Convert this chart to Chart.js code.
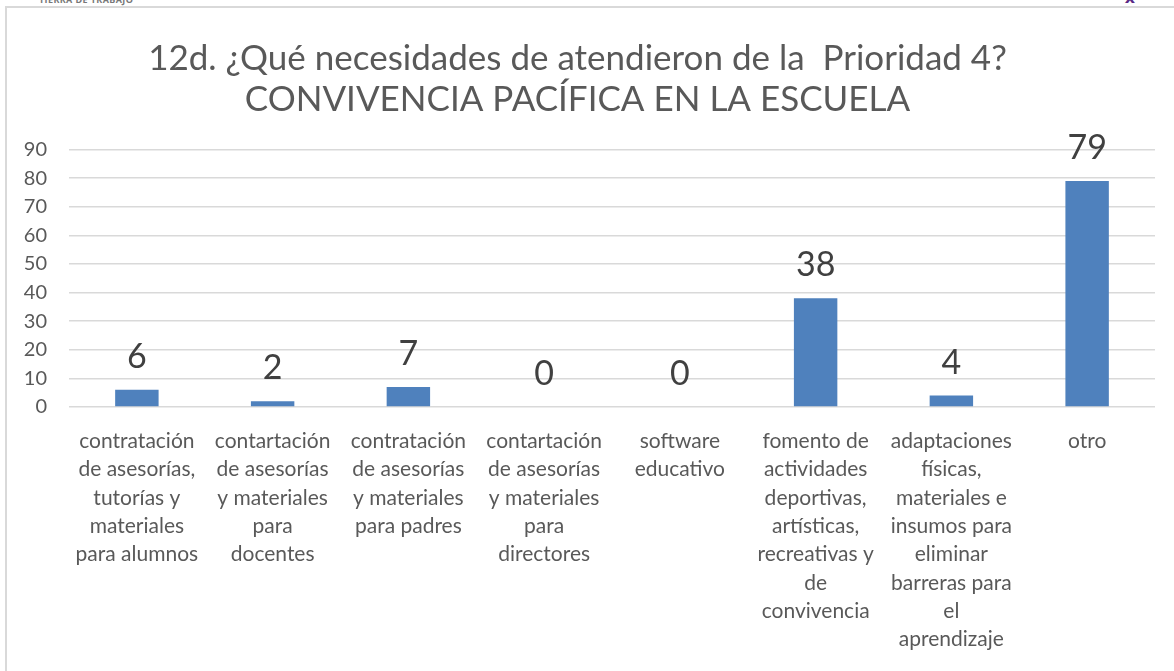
<!DOCTYPE html>
<html>
<head>
<meta charset="utf-8">
<script src="https://cdn.jsdelivr.net/npm/chart.js@4/dist/chart.umd.min.js"></script>
<style>
  body { margin: 0; background: #fff; }
  #wrap { position: relative; width: 1174px; height: 671px; overflow: hidden; }
  #frame { position: absolute; left: 5px; top: 6px; width: 1180px; height: 700px; border: 2px solid #d9d9d9; box-sizing: border-box; }
  #logo { position: absolute; left: 39px; top: -7px; font: bold 9px "Open Sans", sans-serif; color: #777; letter-spacing: 0.4px; }
  #mark { position: absolute; left: 1118px; top: -12px; font: bold 16px "DejaVu Sans", sans-serif; color: #5b2a86; }
  canvas { position: absolute; left: 0; top: 0; }
</style>
</head>
<body>
<div id="wrap">
  <div id="logo">TIERRA DE TRABAJO</div>
  <div id="mark">-x-</div>
  <div id="frame"></div>
  <canvas id="needsChart" width="1174" height="671"></canvas>
</div>
<script>
// categories (already broken into lines like in the original)
var categories = [
    ['contratación', 'de asesorías,', 'tutorías y', 'materiales', 'para alumnos'],
    ['contartación', 'de asesorías', 'y materiales', 'para', 'docentes'],
    ['contratación', 'de asesorías', 'y materiales', 'para padres'],
    ['contartación', 'de asesorías', 'y materiales', 'para', 'directores'],
    ['software', 'educativo'],
    ['fomento de', 'actividades', 'deportivas,', 'artísticas,', 'recreativas y', 'de', 'convivencia'],
    ['adaptaciones', 'físicas,', 'materiales e', 'insumos para', 'eliminar', 'barreras para', 'el', 'aprendizaje'],
    ['otro']
];
var values = [6, 2, 7, 0, 0, 38, 4, 79];
var titleLines = ['12d. ¿Qué necesidades de atendieron de la  Prioridad 4?', 'CONVIVENCIA PACÍFICA EN LA ESCUELA'];

var fontName = 'Lato, "Open Sans", sans-serif';

// draw the value above each bar
var valueLabels = {
    id: 'valueLabels',
    afterDatasetsDraw: function (chart) {
        var ctx = chart.ctx;
        var meta = chart.getDatasetMeta(0);
        ctx.save();
        ctx.font = '34px ' + fontName;
        ctx.fillStyle = '#404040';
        ctx.textAlign = 'center';
        ctx.textBaseline = 'middle';
        meta.data.forEach(function (bar, i) {
            ctx.fillText(String(values[i]), bar.x, bar.y - 33);
        });
        ctx.restore();
    }
};

var ctx = document.getElementById('needsChart').getContext('2d');
var needsChart = new Chart(ctx, {
    type: 'bar',
    data: {
        labels: categories,
        datasets: [{
            data: values,
            backgroundColor: '#4f81bd',
            borderWidth: 0,
            categoryPercentage: 1,
            barPercentage: 0.32
        }]
    },
    options: {
        responsive: false,
        animation: false,
        layout: { padding: { left: 0, right: 19, top: 0, bottom: 0 } },
        plugins: {
            legend: { display: false },
            tooltip: { enabled: false },
            title: {
                display: true,
                text: titleLines,
                color: '#595959',
                font: { family: fontName, size: 35, weight: 'normal', lineHeight: 1.15 },
                padding: { top: 39, bottom: 30 }
            }
        },
        scales: {
            x: {
                grid: { display: false },
                border: { display: false },
                ticks: {
                    color: '#595959',
                    font: { family: fontName, size: 21, lineHeight: 1.35 },
                    padding: 12,
                    maxRotation: 0,
                    minRotation: 0,
                    autoSkip: false
                },
                afterFit: function (scale) { scale.height = 264; }
            },
            y: {
                min: 0,
                max: 90,
                grid: { color: '#d9d9d9', lineWidth: 1.5, drawTicks: false },
                border: { display: false },
                ticks: {
                    stepSize: 10,
                    color: '#595959',
                    font: { family: fontName, size: 20 },
                    padding: 22
                },
                afterFit: function (scale) { scale.width = 69; }
            }
        }
    },
    plugins: [valueLabels]
});
</script>
</body>
</html>
